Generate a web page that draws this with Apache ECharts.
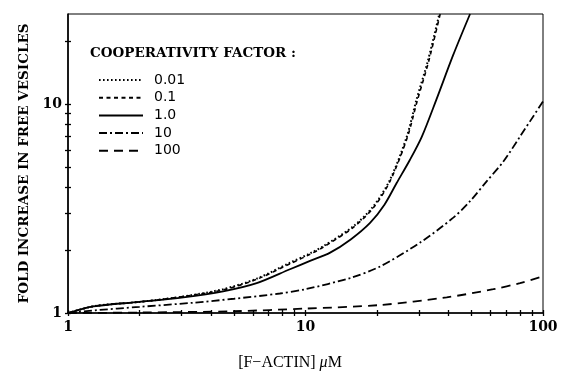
<!DOCTYPE html>
<html><head><meta charset="utf-8">
<script src="https://cdn.jsdelivr.net/npm/echarts@6/dist/echarts.min.js"></script>
<style>html,body{margin:0;padding:0;background:#fff}#c{width:566px;height:376px}</style>
</head><body><div id="c"></div>
<script>
// ---- data ----
const seriesNames = ['0.01', '0.1', '1.0', '10', '100'];

const conc001 = [1, 1.3, 2, 3.06, 4.5, 6.23, 8.6, 10.45, 11.9, 15.9, 19.3, 22.7, 26.7, 29.3, 32.8, 36.6];
const fold001 = [1, 1.08, 1.13, 1.20, 1.30, 1.46, 1.74, 1.93, 2.09, 2.60, 3.24, 4.35, 6.99, 10.45, 16.2, 27];

const conc01 = [1, 1.3, 2, 3.06, 4.5, 6.23, 8.6, 10.45, 11.9, 15.9, 19.3, 22.7, 26.8, 29.5, 33.0, 36.9];
const fold01 = [1, 1.08, 1.13, 1.20, 1.29, 1.45, 1.72, 1.91, 2.07, 2.57, 3.19, 4.28, 6.9, 10.3, 16.0, 27];

const conc1 = [1, 1.28, 2, 3.06, 4.5, 6.23, 8.6, 10.45, 12.7, 15.5, 18.7, 21.5, 24.2, 27.5, 30.9, 35.5, 41.8, 49.3];
const fold1 = [1, 1.076, 1.13, 1.188, 1.27, 1.39, 1.62, 1.775, 1.945, 2.25, 2.70, 3.3, 4.19, 5.4, 6.99, 10.45, 17.1, 27];

const conc10 = [1, 1.3, 2, 3.37, 5, 7.8, 10, 15.4, 20.6, 30.3, 41.9, 49.3, 57.9, 68.1, 80, 100];
const fold10 = [1, 1.03, 1.07, 1.12, 1.17, 1.24, 1.30, 1.47, 1.67, 2.17, 2.86, 3.43, 4.27, 5.31, 6.99, 10.3];

const conc100 = [1, 2, 5, 10, 20.6, 39.3, 61.8, 80, 100];
const fold100 = [1, 1.005, 1.02, 1.05, 1.092, 1.188, 1.30, 1.39, 1.50];

const xTickValues = [1, 2, 3, 4, 5, 6, 7, 8, 9, 10, 20, 30, 40, 50, 60, 70, 80, 90, 100];
const xLabelValues = [1, 10, 100];
const yTickValues = [1, 2, 3, 4, 5, 6, 7, 8, 9, 10, 20];
const yLabelValues = [1, 10];

// ---- chart ----
const zip = (xs, ys) => xs.map((x, i) => [x, ys[i]]);
const allConc = [conc001, conc01, conc1, conc10, conc100];
const allFold = [fold001, fold01, fold1, fold10, fold100];
const dashes = [[1.6, 2.4], [4, 3.5], 'solid', [8, 3, 2, 3], [9, 6]];
const widths = [2, 1.6, 1.8, 1.8, 1.8];

const serif = 'DejaVu Serif';
const ink = '#000';

function axisCommon(extra) {
  return Object.assign({
    type: 'log', logBase: 10,
    splitLine: { show: false }, minorTick: { show: false }, minorSplitLine: { show: false }
  }, extra);
}

const chart = echarts.init(document.getElementById('c'), null, { renderer: 'canvas' });
chart.setOption({
  animation: false,
  backgroundColor: '#fff',
  title: {
    text: 'COOPERATIVITY FACTOR :', left: 90, top: 46, padding: 0,
    textStyle: { fontFamily: serif, fontWeight: 'bold', fontSize: 13.5, color: ink }
  },
  legend: {
    orient: 'vertical', left: 98, top: 73, padding: 0,
    itemWidth: 44, itemHeight: 14, itemGap: 3.7,
    data: seriesNames,
    itemStyle: { opacity: 0, borderWidth: 0 },
    textStyle: { fontFamily: 'DejaVu Sans', fontSize: 14, color: ink, padding: [0, 0, 0, 6] }
  },
  grid: { left: 68, right: 23, top: 14, bottom: 62, show: true, borderColor: ink, borderWidth: 1 },
  xAxis: [
    axisCommon({
      min: 1, max: 100, position: 'bottom',
      axisLine: { show: true, onZero: false, lineStyle: { color: ink, width: 1.6 } },
      axisTick: { show: true, inside: false, length: 3, customValues: xTickValues, lineStyle: { color: ink, width: 1.3 } },
      axisLabel: { customValues: xLabelValues, margin: 7, color: ink, fontFamily: serif, fontWeight: 'bold', fontSize: 14 },
      name: '{a|[F−ACTIN] }{m|μ}{a|M}', nameLocation: 'middle', nameGap: 42,
      nameTextStyle: {
        padding: [0, 31, 0, 0],
        rich: {
          a: { fontFamily: 'Liberation Serif', fontSize: 16, color: ink },
          m: { fontFamily: 'Liberation Serif', fontStyle: 'italic', fontSize: 16, color: ink }
        }
      }
    }),
    axisCommon({
      min: 1, max: 100, position: 'bottom',
      axisLine: { show: false, onZero: false },
      axisTick: { show: true, inside: true, length: 3, customValues: xTickValues, lineStyle: { color: ink, width: 1.3 } },
      axisLabel: { show: false }
    })
  ],
  yAxis: [
    axisCommon({
      min: 1, max: 27, position: 'left',
      axisLine: { show: true, onZero: false, lineStyle: { color: ink, width: 1.6 } },
      axisTick: { show: true, inside: false, length: 3, customValues: yTickValues, lineStyle: { color: ink, width: 1.3 } },
      axisLabel: { customValues: yLabelValues, margin: 6, color: ink, fontFamily: serif, fontWeight: 'bold', fontSize: 14 },
      name: 'FOLD INCREASE IN FREE VESICLES', nameLocation: 'middle', nameGap: 34,
      nameTextStyle: { fontFamily: serif, fontWeight: 'bold', fontSize: 13.5, color: ink }
    }),
    axisCommon({
      min: 1, max: 27, position: 'left',
      axisLine: { show: false, onZero: false },
      axisTick: { show: true, inside: true, length: 3, customValues: yTickValues, lineStyle: { color: ink, width: 1.3 } },
      axisLabel: { show: false }
    })
  ],
  series: seriesNames.map((name, i) => ({
    name, type: 'line', xAxisIndex: 0, yAxisIndex: 0,
    data: zip(allConc[i], allFold[i]),
    showSymbol: false, symbol: 'none', smooth: 0.3, clip: true,
    lineStyle: { color: ink, width: widths[i], type: dashes[i] },
    itemStyle: { color: ink }
  }))
});
</script>
</body></html>
